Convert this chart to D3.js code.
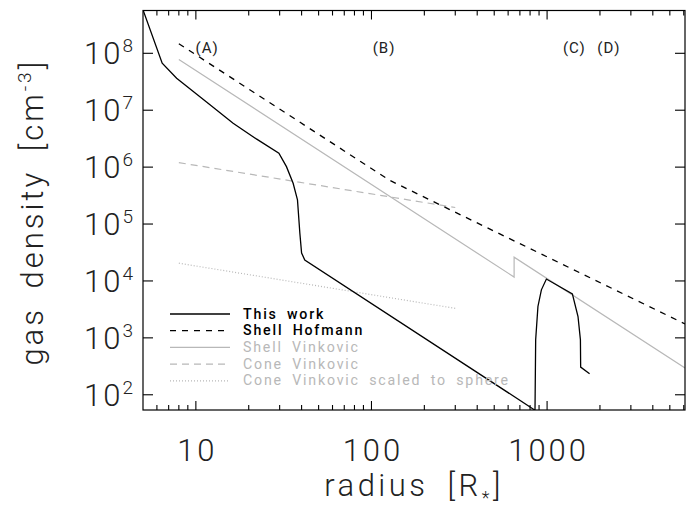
<!DOCTYPE html>
<html lang="en">
<head>
<meta charset="UTF-8" />
<title>Gas density profiles</title>
<script src="https://cdn.jsdelivr.net/npm/d3@7"></script>
<style>
  body { margin: 0; background: #fff; }
  text { font-family: Roboto, "DejaVu Sans", sans-serif; }
</style>
</head>
<body>
<div id="chart"></div>
<script>
// radius in R_star, gas density in cm^-3
const thisWorkR = [5, 6.43, 7.77, 11.5, 16.3, 22.1, 29.7, 32.8, 35.8, 37.9, 39.1, 40.0, 41.7, 850, 852, 852, 861, 887, 928, 991, 1393, 1500, 1548, 1553, 1746];
const thisWorkN = [5.8e8, 6.7e7, 3.64e7, 1.4e7, 5.9e6, 3.13e6, 1.75e6, 1.02e6, 5.2e5, 2.65e5, 6.9e4, 3.1e4, 2.34e4, 54, 30, 30, 925, 3.56e3, 6.98e3, 1.08e4, 5.94e3, 2.37e3, 925, 306, 234];

const hofmannR = [8, 127, 6100];
const hofmannN = [1.47e8, 5.85e5, 1757];

const shellVinkR = [8, 649, 649, 6100];
const shellVinkN = [7.8e7, 1.17e4, 2.62e4, 296];

const coneVinkR = [8, 300];
const coneVinkN = [1.2e6, 1.95e5];

const coneScaledR = [8, 300];
const coneScaledN = [2.05e4, 3.3e3];

const seriesNames = ["This work", "Shell Hofmann", "Shell Vinkovic", "Cone Vinkovic", "Cone Vinkovic scaled to sphere"];
const regionLabels = ["(A)", "(B)", "(C)", "(D)"];
const regionR = [11.6, 118, 1430, 2250];

const xMajor = [10, 100, 1000];
const xMajorLabels = ["10", "100", "1000"];
const yExponents = [2, 3, 4, 5, 6, 7, 8];

const W = 692, H = 512;
const plot = { left: 143, right: 685, top: 10.5, bottom: 410 };

const svg = d3.select("#chart").append("svg")
  .attr("width", W).attr("height", H);

const x = d3.scaleLog().domain([5, 6100]).range([plot.left, plot.right]);
const y = d3.scaleLog().domain([54, 5.65e8]).range([plot.bottom, plot.top]);

const gray = "#b8b8b8";
const styles = [
  { color: "#000", dash: null, w: 1.3 },
  { color: "#000", dash: "6,6", w: 1.3 },
  { color: gray, dash: null, w: 1.2 },
  { color: gray, dash: "7,5", w: 1.2 },
  { color: gray, dash: "1,2", w: 1.2 }
];

const series = [
  [thisWorkR, thisWorkN],
  [hofmannR, hofmannN],
  [shellVinkR, shellVinkN],
  [coneVinkR, coneVinkN],
  [coneScaledR, coneScaledN]
].map(([r, n]) => r.map((v, i) => [v, n[i]]));

svg.append("clipPath").attr("id", "clip")
  .append("rect")
  .attr("x", plot.left).attr("y", plot.top)
  .attr("width", plot.right - plot.left).attr("height", plot.bottom - plot.top);

const line = d3.line().x(d => x(d[0])).y(d => y(d[1]));

// draw gray ones first so black stays on top
const order = [4, 3, 2, 1, 0];
svg.append("g").attr("clip-path", "url(#clip)")
  .selectAll("path")
  .data(order)
  .enter()
  .append("path")
  .attr("d", i => line(series[i]))
  .attr("fill", "none")
  .attr("stroke", i => styles[i].color)
  .attr("stroke-width", i => styles[i].w)
  .attr("stroke-dasharray", i => styles[i].dash);

// frame
svg.append("rect")
  .attr("x", plot.left).attr("y", plot.top)
  .attr("width", plot.right - plot.left).attr("height", plot.bottom - plot.top)
  .attr("fill", "none").attr("stroke", "#000").attr("stroke-width", 1.2);

// x ticks, inward on bottom and top
const xTicks = x.ticks().filter(t => t > 5 && t < 6100);
const isMajor = t => Math.abs(Math.log10(t) - Math.round(Math.log10(t))) < 1e-9;
const tickG = svg.append("g").attr("stroke", "#000").attr("stroke-width", 1.1);
xTicks.forEach(t => {
  const len = isMajor(t) ? 9 : 5;
  tickG.append("line").attr("x1", x(t)).attr("x2", x(t))
    .attr("y1", plot.bottom).attr("y2", plot.bottom - len);
  tickG.append("line").attr("x1", x(t)).attr("x2", x(t))
    .attr("y1", plot.top).attr("y2", plot.top + len);
});
yExponents.forEach(e => {
  const v = Math.pow(10, e);
  tickG.append("line").attr("x1", plot.left).attr("x2", plot.left + 10)
    .attr("y1", y(v)).attr("y2", y(v));
  tickG.append("line").attr("x1", plot.right).attr("x2", plot.right - 10)
    .attr("y1", y(v)).attr("y2", y(v));
});

// tick labels
const labelFont = 31;
svg.append("g").selectAll("text")
  .data(xMajor)
  .enter()
  .append("text")
  .attr("x", d => x(d) + 1.5).attr("y", 461)
  .attr("text-anchor", "middle")
  .attr("font-size", labelFont).attr("font-weight", 300)
  .attr("letter-spacing", 3)
  .attr("fill", "#222")
  .text((d, i) => xMajorLabels[i]);

const yLab = svg.append("g").selectAll("text")
  .data(yExponents)
  .enter()
  .append("text")
  .attr("x", 133).attr("y", d => y(Math.pow(10, d)) + 11)
  .attr("text-anchor", "end")
  .attr("font-weight", 300)
  .attr("fill", "#222");
yLab.append("tspan").attr("font-size", labelFont).attr("letter-spacing", 2).text("10");
yLab.append("tspan").attr("font-size", 19).attr("dy", -12).text(d => d);

// axis titles
const xt = svg.append("text")
  .attr("x", (plot.left + plot.right) / 2).attr("y", 496)
  .attr("text-anchor", "middle")
  .attr("font-size", labelFont).attr("font-weight", 300)
  .attr("letter-spacing", 3.5).attr("word-spacing", 8)
  .attr("fill", "#222");
xt.append("tspan").text("radius [R");
xt.append("tspan").attr("font-size", 18).attr("dy", 8).text("*");
xt.append("tspan").attr("dy", -8).text("]");

const yt = svg.append("text")
  .attr("transform", `translate(43,${(plot.top + plot.bottom) / 2 + 2}) rotate(-90)`)
  .attr("text-anchor", "middle")
  .attr("font-size", labelFont).attr("font-weight", 300)
  .attr("letter-spacing", 3).attr("word-spacing", 8)
  .attr("fill", "#222");
yt.append("tspan").text("gas density [cm");
yt.append("tspan").attr("font-size", 19).attr("dy", -12).text("-3");
yt.append("tspan").attr("dy", 12).text("]");

// region labels
svg.append("g").selectAll("text")
  .data(regionLabels)
  .enter()
  .append("text")
  .attr("x", (d, i) => x(regionR[i])).attr("y", 53)
  .attr("text-anchor", "middle")
  .attr("font-size", 15).attr("letter-spacing", 1)
  .attr("fill", "#222")
  .text(d => d);

// legend
const legend = svg.append("g");
seriesNames.forEach((name, i) => {
  const ly = 314 + i * 16.7;
  legend.append("line")
    .attr("x1", 170).attr("x2", 230).attr("y1", ly).attr("y2", ly)
    .attr("stroke", styles[i].color)
    .attr("stroke-width", styles[i].w)
    .attr("stroke-dasharray", styles[i].dash);
  legend.append("text")
    .attr("x", 243).attr("y", ly + 4.5)
    .attr("font-size", 14.2)
    .attr("letter-spacing", 1.8).attr("word-spacing", 4)
    .attr("font-weight", i < 2 ? 500 : 400)
    .attr("fill", i < 2 ? "#000" : gray)
    .text(name);
});
</script>
</body>
</html>
